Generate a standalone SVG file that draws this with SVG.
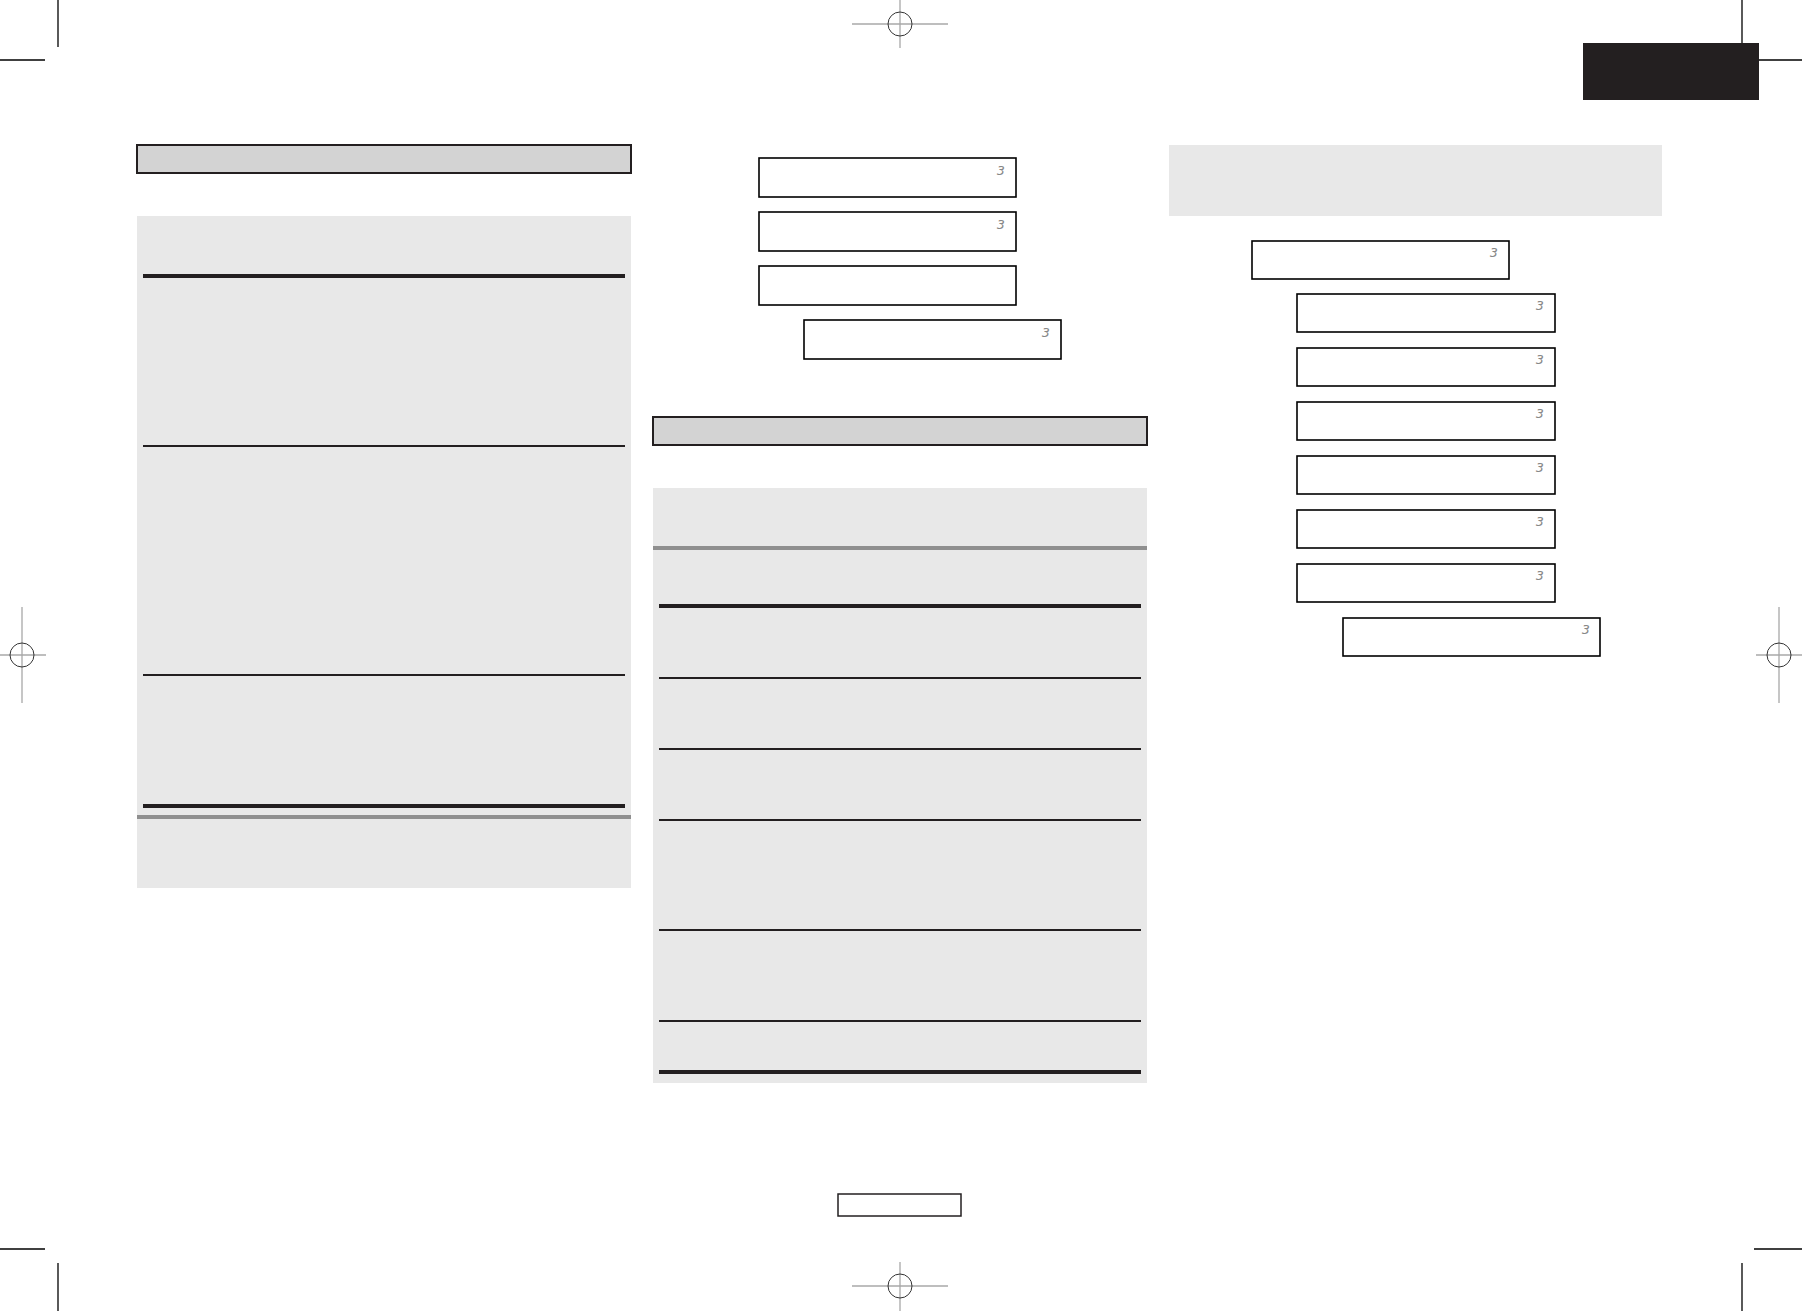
<svg xmlns="http://www.w3.org/2000/svg" width="1802" height="1311" viewBox="0 0 1802 1311">
<style>
.hdr{fill:#d3d3d3;stroke:#231f20;stroke-width:2}
.panel{fill:#e8e8e8;stroke:none}
.thick{stroke:#231f20;stroke-width:4}
.thin{stroke:#231f20;stroke-width:2}
.grey{stroke:#8f8f8f;stroke-width:4}
.box{fill:#fff;stroke:#000;stroke-width:1.6}
.seg{font-family:"DejaVu Sans Mono","Liberation Mono",monospace;font-size:13px;fill:#888;font-style:italic}
.crop{stroke:#000;stroke-width:1.3}
.reg{stroke:#a8a8a8;stroke-width:1.3}
.regc{fill:none;stroke:#333;stroke-width:1}
</style>
<rect width="1802" height="1311" fill="#fff"/>
<g id="cropmarks">
<line class="crop" x1="58" y1="0" x2="58" y2="47"/>
<line class="crop" x1="0" y1="60" x2="45" y2="60"/>
<line class="crop" x1="1742" y1="0" x2="1742" y2="47"/>
<line class="crop" x1="1754" y1="60" x2="1802" y2="60"/>
<line class="crop" x1="58" y1="1263" x2="58" y2="1311"/>
<line class="crop" x1="0" y1="1249" x2="45" y2="1249"/>
<line class="crop" x1="1742" y1="1263" x2="1742" y2="1311"/>
<line class="crop" x1="1754" y1="1249" x2="1802" y2="1249"/>
</g>
<g id="regmarks">
<line class="reg" x1="852" y1="24" x2="948" y2="24"/>
<line class="reg" x1="900" y1="0" x2="900" y2="48"/>
<circle class="regc" cx="900" cy="24" r="12"/>
<line class="reg" x1="852" y1="1286" x2="948" y2="1286"/>
<line class="reg" x1="900" y1="1262" x2="900" y2="1311"/>
<circle class="regc" cx="900" cy="1286" r="12"/>
<line class="reg" x1="0" y1="655" x2="46" y2="655"/>
<line class="reg" x1="22" y1="607" x2="22" y2="703"/>
<circle class="regc" cx="22" cy="655" r="12"/>
<line class="reg" x1="1756" y1="655" x2="1802" y2="655"/>
<line class="reg" x1="1779" y1="607" x2="1779" y2="703"/>
<circle class="regc" cx="1779" cy="655" r="12"/>
</g>
<g id="tab"><rect x="1583" y="43" width="176" height="57" fill="#231f20"/></g>
<g id="left-column">
<rect class="hdr" x="137" y="145" width="494" height="28"/>
<rect class="panel" x="137" y="216" width="494" height="672"/>
<line class="thick" x1="143" y1="276" x2="625" y2="276"/>
<line class="thin" x1="143" y1="446" x2="625" y2="446"/>
<line class="thin" x1="143" y1="675" x2="625" y2="675"/>
<line class="thick" x1="143" y1="806" x2="625" y2="806"/>
<line class="grey" x1="137" y1="817" x2="631" y2="817"/>
</g>
<g id="middle-column">
<g id="mbox1"><rect class="box" x="759" y="158" width="257" height="39"/><text class="seg" x="997" y="175">3</text></g>
<g id="mbox2"><rect class="box" x="759" y="212" width="257" height="39"/><text class="seg" x="997" y="229">3</text></g>
<g id="mbox3"><rect class="box" x="759" y="266" width="257" height="39"/></g>
<g id="mbox4"><rect class="box" x="804" y="320" width="257" height="39"/><text class="seg" x="1042" y="337">3</text></g>
<rect class="hdr" x="653" y="417" width="494" height="28"/>
<rect class="panel" x="653" y="488" width="494" height="595"/>
<line class="grey" x1="653" y1="548" x2="1147" y2="548"/>
<line class="thick" x1="659" y1="606" x2="1141" y2="606"/>
<line class="thin" x1="659" y1="678" x2="1141" y2="678"/>
<line class="thin" x1="659" y1="749" x2="1141" y2="749"/>
<line class="thin" x1="659" y1="820" x2="1141" y2="820"/>
<line class="thin" x1="659" y1="930" x2="1141" y2="930"/>
<line class="thin" x1="659" y1="1021" x2="1141" y2="1021"/>
<line class="thick" x1="659" y1="1072" x2="1141" y2="1072"/>
</g>
<g id="right-column">
<rect class="panel" x="1169" y="145" width="493" height="71"/>
<g id="rbox1"><rect class="box" x="1252" y="241" width="257" height="38"/><text class="seg" x="1490" y="257">3</text></g>
<g id="rbox2"><rect class="box" x="1297" y="294" width="258" height="38"/><text class="seg" x="1536" y="310">3</text></g>
<g id="rbox3"><rect class="box" x="1297" y="348" width="258" height="38"/><text class="seg" x="1536" y="364">3</text></g>
<g id="rbox4"><rect class="box" x="1297" y="402" width="258" height="38"/><text class="seg" x="1536" y="418">3</text></g>
<g id="rbox5"><rect class="box" x="1297" y="456" width="258" height="38"/><text class="seg" x="1536" y="472">3</text></g>
<g id="rbox6"><rect class="box" x="1297" y="510" width="258" height="38"/><text class="seg" x="1536" y="526">3</text></g>
<g id="rbox7"><rect class="box" x="1297" y="564" width="258" height="38"/><text class="seg" x="1536" y="580">3</text></g>
<g id="rbox8"><rect class="box" x="1343" y="618" width="257" height="38"/><text class="seg" x="1582" y="634">3</text></g>
</g>
<g id="pagebox"><rect x="838" y="1194" width="123" height="22" fill="#fff" stroke="#231f20" stroke-width="1.5"/></g>
<g id="connectors"></g>
</svg>
